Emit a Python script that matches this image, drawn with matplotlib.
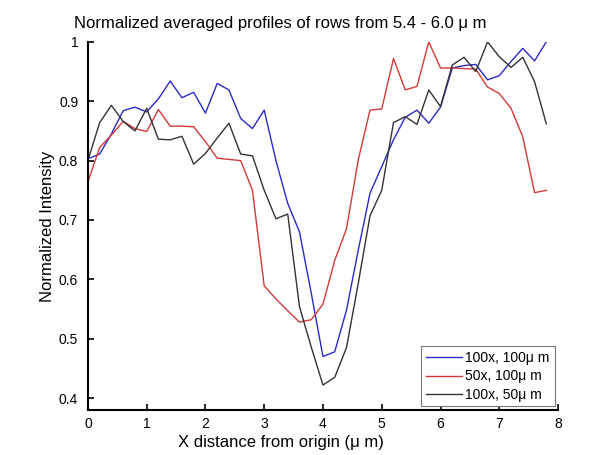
import matplotlib
matplotlib.use("Agg")
import matplotlib.pyplot as plt
import numpy as np

plt.rcParams["font.family"] = ["Liberation Sans", "DejaVu Sans"]

# sample positions (um), 0.2 um step
x_um = np.arange(40) * 0.2

# 100x, 100um
blue = [0.803, 0.811, 0.845, 0.884, 0.890, 0.882, 0.904, 0.934, 0.906, 0.915,
        0.880, 0.930, 0.919, 0.871, 0.854, 0.885, 0.800, 0.728, 0.680, 0.577,
        0.470, 0.478, 0.548, 0.649, 0.745, 0.790, 0.835, 0.873, 0.885, 0.863,
        0.890, 0.956, 0.960, 0.962, 0.936, 0.943, 0.967, 0.989, 0.968, 1.000]

# 50x, 100um
red = [0.764, 0.822, 0.843, 0.866, 0.854, 0.849, 0.886, 0.858, 0.858, 0.857,
       0.832, 0.804, 0.802, 0.800, 0.750, 0.589, 0.567, 0.547, 0.528, 0.532,
       0.558, 0.632, 0.685, 0.801, 0.885, 0.887, 0.972, 0.919, 0.925, 1.000,
       0.956, 0.956, 0.955, 0.954, 0.924, 0.913, 0.888, 0.840, 0.746, 0.750]

# 100x, 50um
black = [0.800, 0.864, 0.893, 0.866, 0.850, 0.888, 0.836, 0.835, 0.841, 0.794,
         0.812, 0.838, 0.863, 0.811, 0.808, 0.750, 0.702, 0.710, 0.554, 0.486,
         0.422, 0.435, 0.485, 0.593, 0.707, 0.750, 0.864, 0.874, 0.861, 0.919,
         0.891, 0.961, 0.974, 0.950, 1.000, 0.975, 0.957, 0.974, 0.933, 0.862]

labels = ["100x, 100\u03bc m", "50x, 100\u03bc m", "100x, 50\u03bc m"]
colors = ["#2a2ac8", "#d23a3a", "#333333"]

xticks = [0, 1, 2, 3, 4, 5, 6, 7, 8]
yticks = [0.4, 0.5, 0.6, 0.7, 0.8, 0.9, 1.0]
ytick_labels = ["0.4", "0.5", "0.6", "0.7", "0.8", "0.9", "1"]

fig = plt.figure(figsize=(6.02, 4.55), dpi=100)
ax = fig.add_axes([0.146, 0.099, 0.781, 0.809])

for ys, lab, c in zip([blue, red, black], labels, colors):
    ax.plot(x_um, ys, color=c, lw=1.0, label=lab)

ax.set_xlim(0, 8)
ax.set_ylim(0.38, 1.0)
ax.set_xticks(xticks)
ax.set_yticks(yticks)
ax.set_yticklabels(ytick_labels)
ax.tick_params(direction="in", length=4, width=1.2, labelsize=10)
ax.tick_params(axis="y", pad=7)
ax.tick_params(axis="x", pad=5)

for s in ["top", "right"]:
    ax.spines[s].set_visible(False)
for s in ["left", "bottom"]:
    ax.spines[s].set_linewidth(1.5)

# title and xlabel sit a bit left of the axes centre in the original
ax.set_title("Normalized averaged profiles of rows from 5.4 - 6.0 \u03bc m",
             fontsize=12, x=0.41, pad=10)
ax.set_xlabel("X distance from origin (\u03bc m)", fontsize=12)
ax.xaxis.set_label_coords(0.41, -0.068)
ax.set_ylabel("Normalized Intensity", fontsize=12, labelpad=3)

leg = ax.legend(loc="lower right", fontsize=10, handlelength=2.6,
                handletextpad=0.25, borderpad=0.35, labelspacing=0.3,
                fancybox=False, framealpha=1, borderaxespad=0.25)
leg.get_frame().set_edgecolor("#777777")
leg.get_frame().set_linewidth(0.8)

fig.savefig("out.png", dpi=100)
